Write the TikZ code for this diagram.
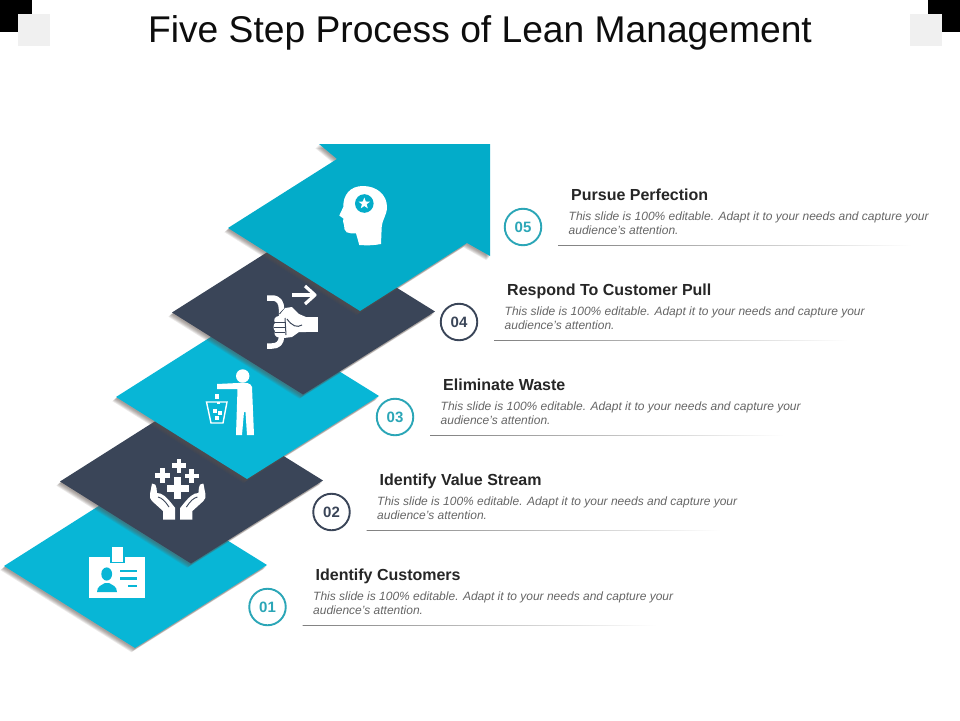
\documentclass[tikz,border=0pt]{standalone}
\usepackage{fontspec}
\setmainfont{Liberation Sans}
\usetikzlibrary{shapes.geometric}
\definecolor{tealA}{HTML}{08B6D6}
\definecolor{tealB}{HTML}{03ACC9}
\definecolor{navy}{HTML}{3A4558}
\definecolor{ringteal}{HTML}{2BA6B7}
\definecolor{shadowc}{HTML}{5E524C}
\tikzset{
  shadowlayer/.style={fill=shadowc,fill opacity=0.12,draw=none},
  whiteicon/.style={fill=white,draw=none},
  whiteline/.style={draw=white,line width=#1,line cap=butt,line join=round},
  ring/.style={circle,draw=#1,line width=1.9pt,minimum size=36.5pt,inner sep=0pt,text=#1,font=\fontsize{15}{15}\selectfont\bfseries},
  headtext/.style={anchor=base west,inner sep=0pt,text=black!85,font=\fontsize{16}{16}\selectfont\bfseries},
  bodytext/.style={anchor=north west,inner sep=0pt,align=left,text=black!60,font=\fontsize{12}{14.4}\selectfont\itshape}
}
\newcommand{\diamondshape}[3]{%
  \begin{scope}[shift={(#1,#2)}]
    \foreach \o in {0.6,1.2,1.8,2.4,3.0,3.6}{\fill[shadowlayer,shift={(-\o,\o+0.6)}] (4,566)--(135,483)--(267,565)--(135,648)--cycle;}
    \fill[#3] (4,566)--(135,483)--(267,565)--(135,648)--cycle;
  \end{scope}}
\newcommand{\infoblock}[6]{%
  \begin{scope}[shift={(#2,#3)}]
    \node[ring=#4] (num#1) at (523,227) {#5};
    \node[headtext] (head#1) at (571,200.5) {#6};
    \node[bodytext] (body#1) at (568.5,211.5) {This slide is 100\% editable. Adapt it to your needs and capture your\\audience's attention.};
    \shade[left color=black!50,right color=white,draw=none] (558,245) rectangle (912,245.8);
  \end{scope}}
\begin{document}
\begin{tikzpicture}[x=1pt,y=-1pt]
\useasboundingbox (0,0) rectangle (960,720);
\fill[white] (0,0) rectangle (960,720);
% corners
\fill[black] (0,0) rectangle (32,32);
\fill[black] (928,0) rectangle (960,32);
\fill[black!6] (18,14) rectangle (50,46);
\fill[black!6] (910,14) rectangle (942,46);
% title
\node[anchor=base,inner sep=0pt,text=black!95,font=\fontsize{37.2}{37.2}\selectfont] (title) at (480,42) {Five Step Process of Lean Management};
% diamonds
\diamondshape{0}{0}{tealA}
\diamondshape{56}{-84.5}{navy}
\diamondshape{112}{-169}{tealA}
\diamondshape{168}{-253.5}{navy}
% arrow
\foreach \o in {0.6,1.2,1.8,2.4,3.0,3.6}{\fill[shadowlayer,shift={(-\o,\o+0.6)}] (228,228)--(337,159)--(319,144)--(490,144)--(490,256)--(467,243)--(360,311)--cycle;}
\fill[tealB] (228,228)--(337,159)--(319,144)--(490,144)--(490,256)--(467,243)--(360,311)--cycle;
% head icon
\fill[whiteicon] (363,186) .. controls (377,186) and (387,195) .. (387,207) .. controls (387,215) and (382,220) .. (381.7,227) -- (381,244) .. controls (374,245.5) and (366,245.5) .. (359.3,245) -- (356,233.3) .. controls (352,233.5) and (349,233.3) .. (346.7,232.3) .. controls (344.5,231) and (344,228) .. (344,225) .. controls (343,223) and (343,221) .. (343.3,218.5) -- (339.3,215.5) -- (343.3,207) .. controls (343,195) and (350,186) .. (363,186) -- cycle;
\fill[tealB] (364.3,203.5) circle (9.3);
\node[star,star points=5,star point ratio=2.4,fill=white,minimum size=12pt,inner sep=0pt] (starmark) at (364.3,203.5) {};
% hand icon
\draw[whiteline=5.5pt] (267,298) -- (272,298) .. controls (279,298) and (281.5,303) .. (281.5,309) -- (281.5,336) .. controls (281.5,343) and (278,346) .. (272,346) -- (267,346);
\draw[whiteline=3.2pt] (292,295) -- (314,295);
\draw[whiteline=3.2pt] (305,286) -- (315,295) -- (305,304);
\fill[whiteicon] (305,317) rectangle (318,332);
\draw[navy,line width=0.9pt] (279.5,314) .. controls (282,311) and (284,309) .. (285.5,308);
\fill[whiteicon] (285,308) -- (292,307) -- (299,314) -- (306,317) -- (306,332) -- (299,332) -- (292,337) -- (284,338) -- (277,337) .. controls (274,335) and (274,333) .. (275,331) .. controls (273,329) and (273,325) .. (275,323) .. controls (273,320) and (275,316) .. (279,316) -- cycle;
\draw[navy,line width=0.9pt] (274,322.5) -- (285,322.5) (274,327.5) -- (285,327.5) (275,332.5) -- (285,332.5);
\draw[navy,line width=1pt] (285,318) -- (286,335);
\draw[navy,line width=1pt] (287,319) .. controls (292,326) and (297,328) .. (302,325);
% trash icon
\fill[whiteicon] (242.7,376) circle (6.7);
\fill[whiteicon] (217,384) -- (238,383) .. controls (246,382) and (251,383) .. (252,387) -- (254,435) -- (247,435) -- (245.5,412) -- (244,412) -- (242,435) -- (236,435) -- (237.5,389) -- (217,389) -- cycle;
\draw[white,line width=1.4pt] (206.5,402) -- (227,402) -- (223,423) -- (211,423) -- cycle;
\fill[whiteicon] (215,394) rectangle (219,398.5);
\fill[whiteicon] (212.5,409) rectangle (216.5,413);
\fill[whiteicon] (217.5,411) rectangle (221.5,415);
\fill[whiteicon] (215,416) rectangle (219,420);
\fill[whiteicon] (217,401.5) rectangle (220,404);
% hands icon
\foreach \cx/\cy/\a/\b in {179/465.7/7/2.4,162.7/475.7/7.5/2.4,191.7/476/7/2.4,177.7/488/11/3.5}{
  \fill[whiteicon] (\cx-\a,\cy-\b) rectangle (\cx+\a,\cy+\b);
  \fill[whiteicon] (\cx-\b,\cy-\a) rectangle (\cx+\b,\cy+\a);}
\foreach \m/\t in {1/0,-1/355.4}{
  \begin{scope}[shift={(\t,0)},xscale=\m]
    \fill[whiteicon] (152,483.5) .. controls (155,483.5) and (156.5,485) .. (156.5,488) -- (157,493) .. controls (162,493) and (166,496) .. (175.2,508) -- (175.2,519.5) -- (163,519.5) -- (163,511) -- (152,501) .. controls (150,499) and (149.5,497) .. (150,494) -- cycle;
    \draw[navy,line width=0.9pt] (158,497) .. controls (162,498) and (165,501) .. (169,507);
  \end{scope}}
% badge icon
\fill[whiteicon] (89,557) rectangle (145,598);
\fill[tealA] (110,556) rectangle (125,563);
\fill[whiteicon] (112,547) rectangle (122.5,561.5);
\fill[tealA] (106.7,574) ellipse (5.4 and 6.6);
\fill[tealA] (97,592) .. controls (97,586) and (102,585) .. (105,583) -- (109,583) .. controls (112,585) and (117,586) .. (117,592) -- cycle;
\draw[tealA,line width=2.3pt] (120,571) -- (137,571) (120,578.5) -- (137,578.5) (128,586) -- (137,586);
% texts
\infoblock{e}{0}{0}{ringteal}{05}{Pursue Perfection}
\infoblock{d}{-64}{95}{navy}{04}{Respond To Customer Pull}
\infoblock{c}{-128}{190}{ringteal}{03}{Eliminate Waste}
\infoblock{b}{-191.5}{285}{navy}{02}{Identify Value Stream}
\infoblock{a}{-255.5}{380}{ringteal}{01}{Identify Customers}
\end{tikzpicture}
\end{document}
